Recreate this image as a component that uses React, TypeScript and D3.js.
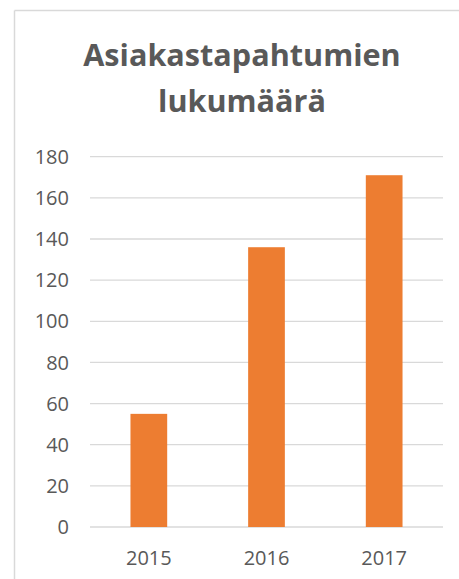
import React from "react";
import * as d3 from "d3";

const years = ["2015", "2016", "2017"];
const values = [55, 136, 171];
const yTicks = [0, 20, 40, 60, 80, 100, 120, 140, 160, 180];
const titleLines = ["Asiakastapahtumien", "lukumäärä"];

export default function App() {
  const W = 459;
  const H = 579;
  const x = d3
    .scaleBand<string>()
    .domain(years)
    .range([90, 443])
    .paddingInner(0.688)
    .paddingOuter(0.344);
  const y = d3.scaleLinear().domain([0, 180]).range([527, 156.7]);
  const font = "'Open Sans', 'Liberation Sans', Arial, sans-serif";
  const textColor = "#595959";
  return (
    <svg
      width={W}
      height={H}
      style={{ position: "absolute", left: 0, top: 0, background: "#fff" }}
    >
      <rect x={0} y={0} width={W} height={H} fill="#fff" />
      {/* chart border */}
      <line x1={14.5} x2={14.5} y1={10.5} y2={H} stroke="#D9D9D9" strokeWidth={1.5} />
      <line x1={14.5} x2={W} y1={10.5} y2={10.5} stroke="#D9D9D9" strokeWidth={1.5} />
      {/* title */}
      {titleLines.map((t, i) => (
        <text
          key={t}
          x={242}
          y={66 + i * 45.5}
          textAnchor="middle"
          fontFamily={font}
          fontWeight="bold"
          fontSize={30.6}
          fill={textColor}
        >
          {t}
        </text>
      ))}
      {/* gridlines */}
      {yTicks.map((t) => (
        <line
          key={t}
          x1={90}
          x2={443}
          y1={y(t)}
          y2={y(t)}
          stroke="#D9D9D9"
          strokeWidth={1.3}
        />
      ))}
      {/* y labels */}
      {yTicks.map((t) => (
        <text
          key={"l" + t}
          x={69}
          y={y(t)}
          dy="0.36em"
          textAnchor="end"
          fontFamily={font}
          fontSize={20}
          fill={textColor}
        >
          {t}
        </text>
      ))}
      {/* bars */}
      {years.map((yr, i) => (
        <rect
          key={yr}
          x={x(yr)}
          y={y(values[i])}
          width={x.bandwidth()}
          height={y(0) - y(values[i])}
          fill="#ED7D31"
        />
      ))}
      {/* x labels */}
      {years.map((yr) => (
        <text
          key={"x" + yr}
          x={(x(yr) as number) + x.bandwidth() / 2}
          y={565}
          textAnchor="middle"
          fontFamily={font}
          fontSize={20}
          fill={textColor}
        >
          {yr}
        </text>
      ))}
    </svg>
  );
}
